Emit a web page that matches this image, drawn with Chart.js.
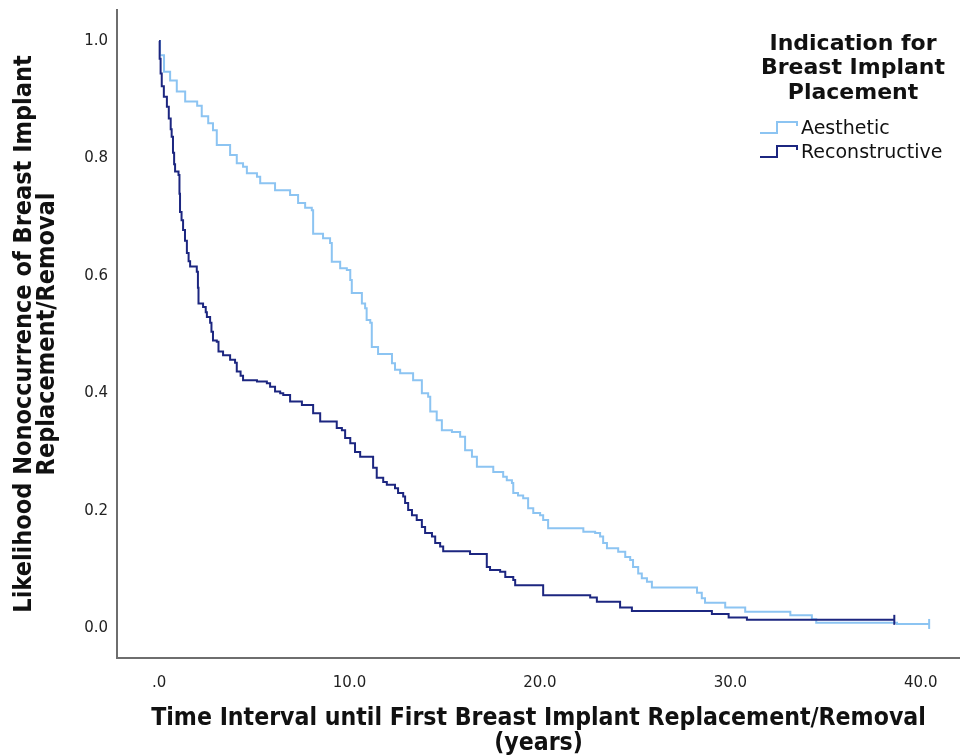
<!DOCTYPE html>
<html>
<head>
<meta charset="utf-8">
<title>Breast Implant Replacement/Removal</title>
<script src="https://cdn.jsdelivr.net/npm/chart.js@4.4.1/dist/chart.umd.min.js"></script>
<style>
    html, body { margin: 0; padding: 0; background: #fff; overflow: hidden; }
    /* canvas is a little wider than the page so the x axis runs to the edge */
    #wrap { width: 960px; height: 755px; overflow: hidden; }
    #kmChart { display: block; }
</style>
</head>
<body>
<div id="wrap"><canvas id="kmChart" width="967" height="755"></canvas></div>
<script>
// --- Data (time in years) ---
const aestheticTimes = [0, 0.05, 0.26, 0.58, 0.93, 1.37, 2.0, 2.24, 2.58, 2.83, 3.03, 3.73, 4.08, 4.41, 4.61, 5.14, 5.31, 6.09, 6.88, 7.30, 7.67, 8.02, 8.09, 8.61, 8.98, 9.07, 9.51, 9.86, 10.04, 10.12, 10.65, 10.82, 10.90, 11.09, 11.17, 11.50, 12.23, 12.39, 12.66, 13.34, 13.80, 14.13, 14.24, 14.58, 14.85, 15.38, 15.81, 16.07, 16.43, 16.69, 17.55, 18.07, 18.26, 18.53, 18.60, 18.85, 19.12, 19.38, 19.65, 20.01, 20.17, 20.43, 22.28, 22.90, 23.16, 23.32, 23.52, 24.11, 24.48, 24.74, 24.89, 25.16, 25.35, 25.62, 25.88, 28.25, 28.50, 28.67, 29.73, 30.78, 33.15, 34.28, 34.51, 38.75, 40.44];
const aestheticSurvival = [1.0, 0.976, 0.948, 0.933, 0.914, 0.897, 0.89, 0.872, 0.86, 0.848, 0.823, 0.806, 0.792, 0.786, 0.775, 0.769, 0.758, 0.746, 0.738, 0.724, 0.716, 0.712, 0.672, 0.664, 0.656, 0.624, 0.613, 0.61, 0.593, 0.571, 0.553, 0.545, 0.525, 0.52, 0.479, 0.467, 0.451, 0.44, 0.434, 0.422, 0.4, 0.394, 0.369, 0.354, 0.337, 0.334, 0.326, 0.303, 0.292, 0.275, 0.266, 0.258, 0.252, 0.247, 0.23, 0.226, 0.221, 0.204, 0.196, 0.192, 0.184, 0.17, 0.164, 0.162, 0.156, 0.145, 0.136, 0.13, 0.121, 0.116, 0.104, 0.093, 0.085, 0.079, 0.069, 0.06, 0.051, 0.043, 0.035, 0.028, 0.022, 0.015, 0.009, 0.007, 0.007];

const reconTimes = [0, 0.03, 0.08, 0.14, 0.25, 0.41, 0.51, 0.61, 0.66, 0.73, 0.79, 0.84, 1.02, 1.07, 1.10, 1.18, 1.26, 1.36, 1.46, 1.55, 1.63, 1.98, 2.04, 2.07, 2.31, 2.45, 2.51, 2.68, 2.75, 2.83, 3.03, 3.12, 3.36, 3.73, 3.99, 4.08, 4.28, 4.41, 5.14, 5.66, 5.83, 6.09, 6.36, 6.52, 6.88, 7.50, 8.09, 8.46, 9.33, 9.60, 9.77, 10.04, 10.29, 10.56, 11.24, 11.43, 11.77, 11.96, 12.39, 12.55, 12.82, 12.92, 13.08, 13.28, 13.53, 13.80, 13.97, 14.33, 14.50, 14.76, 14.92, 16.33, 17.21, 17.38, 17.91, 18.18, 18.60, 18.70, 20.17, 22.64, 22.99, 24.21, 24.83, 29.03, 29.91, 30.87, 38.61];
const reconSurvival = [1.0, 0.97, 0.945, 0.923, 0.905, 0.888, 0.868, 0.85, 0.837, 0.81, 0.79, 0.778, 0.772, 0.74, 0.709, 0.695, 0.678, 0.66, 0.639, 0.625, 0.616, 0.607, 0.58, 0.553, 0.547, 0.538, 0.53, 0.52, 0.505, 0.49, 0.488, 0.471, 0.465, 0.457, 0.452, 0.437, 0.43, 0.422, 0.42, 0.417, 0.411, 0.403, 0.4, 0.397, 0.386, 0.38, 0.366, 0.352, 0.341, 0.337, 0.324, 0.315, 0.3, 0.292, 0.273, 0.256, 0.249, 0.244, 0.238, 0.23, 0.224, 0.213, 0.201, 0.192, 0.184, 0.172, 0.162, 0.156, 0.145, 0.139, 0.131, 0.126, 0.104, 0.099, 0.096, 0.087, 0.082, 0.073, 0.056, 0.052, 0.045, 0.035, 0.029, 0.024, 0.018, 0.014, 0.014];

const seriesLabels = ['Aesthetic', 'Reconstructive'];
const legendTitleLines = ['Indication for', 'Breast Implant', 'Placement'];

const xTickValues = [0, 10, 20, 30, 40];
const xTickLabels = ['.0', '10.0', '20.0', '30.0', '40.0'];
const yTickValues = [0, 0.2, 0.4, 0.6, 0.8, 1.0];
const yTickLabels = ['0.0', '0.2', '0.4', '0.6', '0.8', '1.0'];

const xTitle = ['Time Interval until First Breast Implant Replacement/Removal', '(years)'];
const yTitle = ['Likelihood Nonoccurrence of Breast Implant', 'Replacement/Removal'];

const COLOR_AESTHETIC = '#8cc4f2';
const COLOR_RECON = '#1c2680';
const TITLE_FONT = '"Liberation Sans Narrow", "DejaVu Sans Condensed", sans-serif';

document.addEventListener('DOMContentLoaded', () => {
    drawChart();
});

function toPoints(times, values) {
    return times.map((t, i) => ({ x: t, y: values[i] }));
}

// mark only the last point (censored end of follow-up)
function endMarker(arr) {
    return arr.map((_, i) => (i === arr.length - 1 ? 5 : 0));
}

// keep the plot box fixed: no extra room for overhanging tick labels
function noOverhang(scale) {
    scale.paddingTop = 0;
    scale.paddingBottom = 0;
    scale.paddingLeft = 0;
    scale.paddingRight = 0;
}

// --- Legend drawn like the SPSS one (title + step symbols) ---
const spssLegend = {
    id: 'spssLegend',
    afterDraw(chart) {
        const ctx = chart.ctx;
        ctx.save();
        ctx.fillStyle = '#111';
        ctx.textAlign = 'center';
        ctx.textBaseline = 'middle';
        ctx.font = 'bold 22px "DejaVu Sans"';
        legendTitleLines.forEach((line, i) => {
            ctx.fillText(line, 853, 44 + i * 24.5);
        });

        ctx.textAlign = 'left';
        ctx.font = '19px "DejaVu Sans"';
        chart.data.datasets.forEach((ds) => {
            const i = seriesLabels.indexOf(ds.label);
            const yc = 129 + i * 24;
            ctx.strokeStyle = ds.borderColor;
            ctx.lineWidth = 2;
            ctx.beginPath();
            ctx.moveTo(760, yc + 4);
            ctx.lineTo(777, yc + 4);
            ctx.lineTo(777, yc - 7);
            ctx.lineTo(797, yc - 7);
            ctx.lineTo(797, yc - 3);
            ctx.stroke();
            ctx.fillStyle = '#111';
            ctx.fillText(ds.label, 801, yc);
        });
        ctx.restore();
    }
};

function drawChart() {
    const ctx = document.getElementById('kmChart').getContext('2d');

    new Chart(ctx, {
        type: 'line',
        data: {
            datasets: [
                {
                    label: seriesLabels[0],
                    data: toPoints(aestheticTimes, aestheticSurvival),
                    borderColor: COLOR_AESTHETIC,
                    backgroundColor: COLOR_AESTHETIC,
                    borderWidth: 2,
                    stepped: 'before',
                    pointStyle: 'line',
                    rotation: 90,
                    pointRadius: endMarker(aestheticTimes),
                    pointBorderWidth: 2,
                    order: 1
                },
                {
                    label: seriesLabels[1],
                    data: toPoints(reconTimes, reconSurvival),
                    borderColor: COLOR_RECON,
                    backgroundColor: COLOR_RECON,
                    borderWidth: 2,
                    stepped: 'before',
                    pointStyle: 'line',
                    rotation: 90,
                    pointRadius: endMarker(reconTimes),
                    pointBorderWidth: 2,
                    order: 0
                }
            ]
        },
        options: {
            responsive: false,
            animation: false,
            events: [],
            layout: { padding: { top: 10, right: 0, left: 0, bottom: 0 } },
            plugins: {
                legend: { display: false },
                tooltip: { enabled: false }
            },
            scales: {
                x: {
                    type: 'linear',
                    min: -2.21,
                    max: 42.06,
                    grid: { display: false, drawTicks: false },
                    border: { display: true, color: '#6e6e6e', width: 2 },
                    afterBuildTicks: (scale) => {
                        scale.ticks = xTickValues.map(v => ({ value: v }));
                    },
                    afterFit: (scale) => {
                        scale.height = 97;
                        noOverhang(scale);
                    },
                    ticks: {
                        padding: 16,
                        maxRotation: 0,
                        color: '#222',
                        font: { family: '"DejaVu Sans"', size: 15 },
                        callback: (value) => xTickLabels[xTickValues.indexOf(value)]
                    },
                    title: {
                        display: true,
                        text: xTitle,
                        color: '#111',
                        font: { family: TITLE_FONT, size: 24.6, weight: 'bold', lineHeight: 1.05 },
                        padding: { top: 0, bottom: -2 }
                    }
                },
                y: {
                    min: -0.051,
                    max: 1.053,
                    grid: { display: false, drawTicks: false },
                    border: { display: true, color: '#6e6e6e', width: 2 },
                    afterBuildTicks: (scale) => {
                        scale.ticks = yTickValues.map(v => ({ value: v }));
                    },
                    afterFit: (scale) => {
                        scale.width = 117;
                        noOverhang(scale);
                    },
                    ticks: {
                        padding: 9,
                        color: '#222',
                        font: { family: '"DejaVu Sans"', size: 15 },
                        callback: (value) => yTickLabels[yTickValues.indexOf(value)]
                    },
                    title: {
                        display: true,
                        text: yTitle,
                        color: '#111',
                        font: { family: TITLE_FONT, size: 25, weight: 'bold', lineHeight: 0.92 },
                        padding: { top: 13, bottom: 0 }
                    }
                }
            }
        },
        plugins: [spssLegend]
    });
}
</script>
</body>
</html>
